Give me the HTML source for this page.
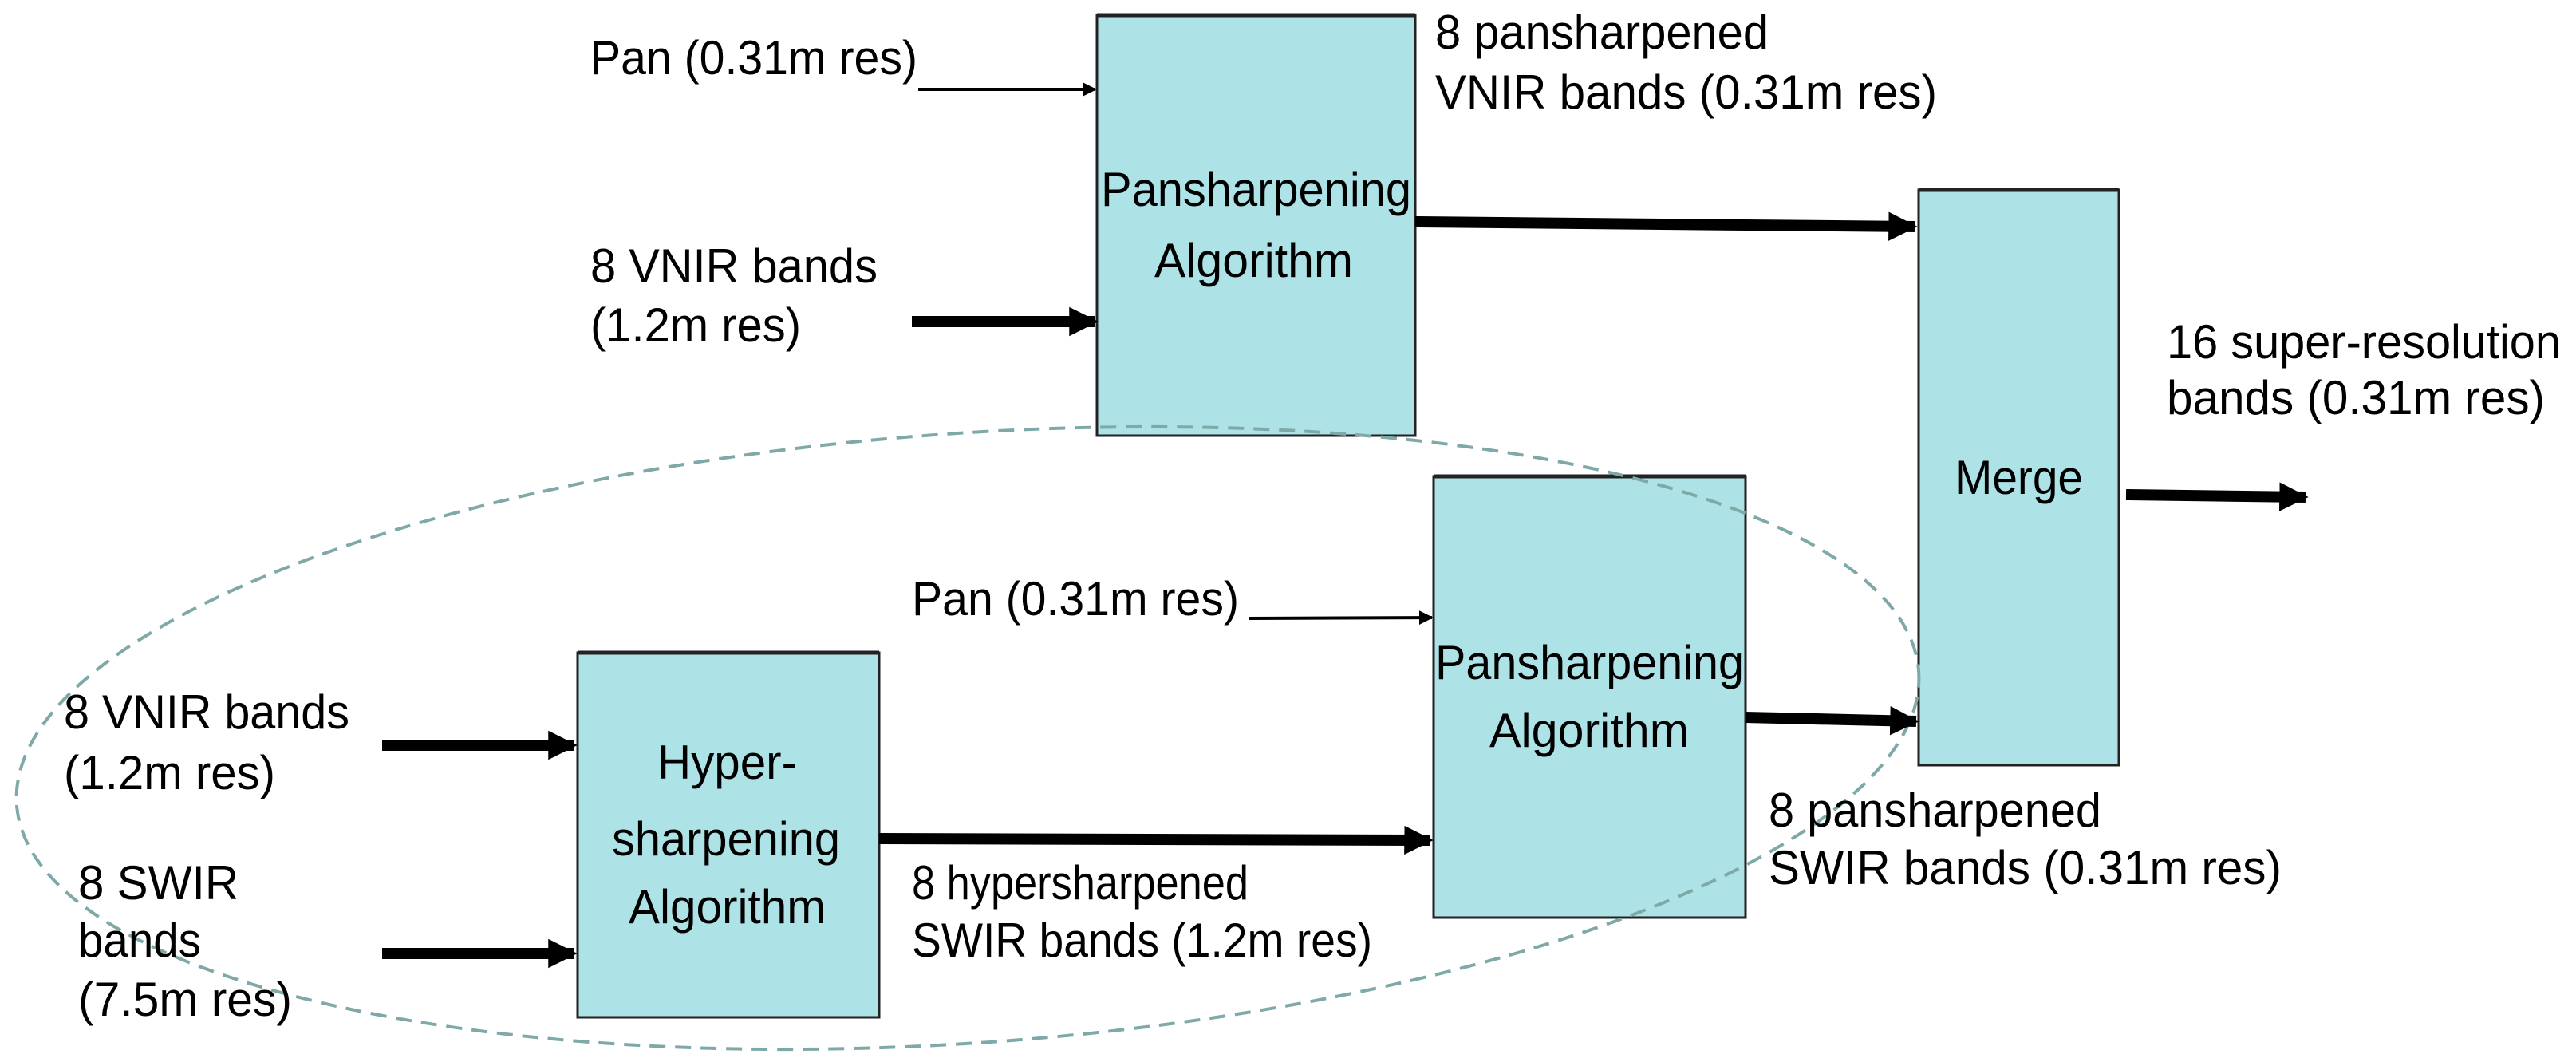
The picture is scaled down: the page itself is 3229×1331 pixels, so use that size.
<!DOCTYPE html>
<html><head><meta charset="utf-8"><style>
html,body{margin:0;padding:0;background:#fff;width:3229px;height:1331px;overflow:hidden;}
svg{display:block;}
text{font-family:"Liberation Sans",Arial,sans-serif;font-size:60px;fill:#000;}
</style></head><body>
<svg width="3229" height="1331" viewBox="0 0 3229 1331" xmlns="http://www.w3.org/2000/svg">
<defs>
<marker id="ah" viewBox="0 0 10 10" refX="9" refY="5" markerWidth="2.6" markerHeight="3" orient="auto" markerUnits="strokeWidth"><path d="M0,0 L10,5 L0,10 z" fill="#000"/></marker>
<marker id="ahs" viewBox="0 0 10 10" refX="9" refY="5" markerWidth="4.5" markerHeight="5.5" orient="auto" markerUnits="strokeWidth"><path d="M0,0 L10,5 L0,10 z" fill="#000"/></marker>
</defs>
<g fill="#ade3e6" stroke="#222" stroke-width="3">
<rect x="1375" y="19" width="399" height="527"/>
<rect x="724" y="818" width="378" height="457"/>
<rect x="1797" y="597" width="391" height="553"/>
<rect x="2405" y="238" width="251" height="721"/>
</g>
<g stroke="#222" stroke-width="5">
<line x1="1375" y1="19" x2="1774" y2="19"/>
<line x1="724" y1="818" x2="1102" y2="818"/>
<line x1="1797" y1="597" x2="2188" y2="597"/>
<line x1="2405" y1="238" x2="2656" y2="238"/>
</g>
<ellipse cx="1213" cy="925" rx="1195" ry="382" transform="rotate(-4 1213 925)" fill="none" stroke="#7fa9a9" stroke-width="4" stroke-dasharray="20 12"/>
<g stroke="#000" fill="none">
<line x1="1151" y1="112" x2="1373" y2="112" stroke-width="4" marker-end="url(#ahs)"/>
<line x1="1143" y1="403" x2="1373" y2="403" stroke-width="14" marker-end="url(#ah)"/>
<line x1="1774" y1="278" x2="2400" y2="284" stroke-width="14" marker-end="url(#ah)"/>
<line x1="2665" y1="620" x2="2890" y2="623" stroke-width="14" marker-end="url(#ah)"/>
<line x1="479" y1="934" x2="720" y2="934" stroke-width="14" marker-end="url(#ah)"/>
<line x1="479" y1="1195" x2="720" y2="1195" stroke-width="14" marker-end="url(#ah)"/>
<line x1="1566" y1="775" x2="1795" y2="774" stroke-width="4" marker-end="url(#ahs)"/>
<line x1="1102" y1="1051" x2="1793" y2="1053" stroke-width="14" marker-end="url(#ah)"/>
<line x1="2188" y1="899" x2="2402" y2="904" stroke-width="14" marker-end="url(#ah)"/>
</g>
<text x="740" y="93" textLength="410" lengthAdjust="spacingAndGlyphs">Pan (0.31m res)</text>
<text x="740" y="354" textLength="360" lengthAdjust="spacingAndGlyphs">8 VNIR bands</text>
<text x="740" y="428" textLength="264" lengthAdjust="spacingAndGlyphs">(1.2m res)</text>
<text x="1380" y="258" textLength="389" lengthAdjust="spacingAndGlyphs">Pansharpening</text>
<text x="1447" y="347" textLength="249" lengthAdjust="spacingAndGlyphs">Algorithm</text>
<text x="1799" y="61" textLength="418" lengthAdjust="spacingAndGlyphs">8 pansharpened</text>
<text x="1799" y="136" textLength="629" lengthAdjust="spacingAndGlyphs">VNIR bands (0.31m res)</text>
<text x="2716" y="449" textLength="494" lengthAdjust="spacingAndGlyphs">16 super-resolution</text>
<text x="2716" y="519" textLength="474" lengthAdjust="spacingAndGlyphs">bands (0.31m res)</text>
<text x="2450" y="619" textLength="161" lengthAdjust="spacingAndGlyphs">Merge</text>
<text x="80" y="913" textLength="358" lengthAdjust="spacingAndGlyphs">8 VNIR bands</text>
<text x="80" y="989" textLength="265" lengthAdjust="spacingAndGlyphs">(1.2m res)</text>
<text x="98" y="1127" textLength="201" lengthAdjust="spacingAndGlyphs">8 SWIR</text>
<text x="98" y="1199" textLength="154" lengthAdjust="spacingAndGlyphs">bands</text>
<text x="98" y="1273" textLength="268" lengthAdjust="spacingAndGlyphs">(7.5m res)</text>
<text x="824" y="976" textLength="175" lengthAdjust="spacingAndGlyphs">Hyper-</text>
<text x="767" y="1072" textLength="286" lengthAdjust="spacingAndGlyphs">sharpening</text>
<text x="788" y="1157" textLength="247" lengthAdjust="spacingAndGlyphs">Algorithm</text>
<text x="1143" y="771" textLength="410" lengthAdjust="spacingAndGlyphs">Pan (0.31m res)</text>
<text x="1143" y="1127" textLength="422" lengthAdjust="spacingAndGlyphs">8 hypersharpened</text>
<text x="1143" y="1199" textLength="577" lengthAdjust="spacingAndGlyphs">SWIR bands (1.2m res)</text>
<text x="1799" y="851" textLength="387" lengthAdjust="spacingAndGlyphs">Pansharpening</text>
<text x="1867" y="936" textLength="250" lengthAdjust="spacingAndGlyphs">Algorithm</text>
<text x="2217" y="1036" textLength="417" lengthAdjust="spacingAndGlyphs">8 pansharpened</text>
<text x="2217" y="1108" textLength="643" lengthAdjust="spacingAndGlyphs">SWIR bands (0.31m res)</text>
</svg>
</body></html>
